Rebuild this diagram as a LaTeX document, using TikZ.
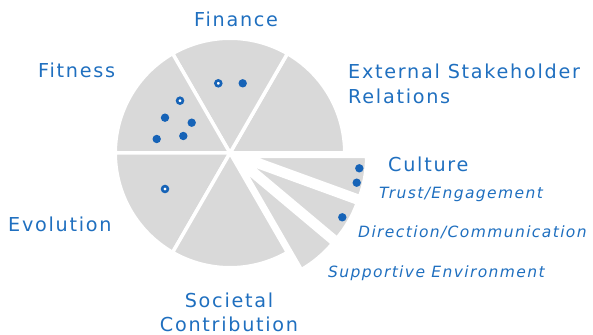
\documentclass[tikz,border=0pt]{standalone}
\usepackage{fontspec}
\setmainfont{DejaVu Sans}[LetterSpace=9]
\usetikzlibrary{calc}

\definecolor{labelblue}{RGB}{31,111,191}
\definecolor{dotblue}{RGB}{22,99,183}
\definecolor{piegray}{RGB}{217,217,217}

\begin{document}
\begin{tikzpicture}[x=1pt,y=1pt,
    slice/.style={fill=piegray,draw=white,line width=3.5pt,line join=round},
    area/.style={text=labelblue,font=\fontsize{19.2}{24.3}\selectfont,inner sep=0pt},
    subarea/.style={text=labelblue,font=\fontsize{15.5}{18}\selectfont\itshape,inner sep=0pt},
    fulldot/.style={fill=dotblue},
    opendot/.style={draw=dotblue,fill=white,line width=2.6pt}
]
\useasboundingbox (0,0) rectangle (593,334);

% === Pie centre ===
\coordinate (c) at (230,181);

% === Main slices ===
\foreach \a in {0,60,...,240} {
    \draw[slice] (c) -- ++(\a:114.75) arc (\a:\a+60:114.75) -- cycle;
}

% === Culture slices (pulled out) ===
\foreach \a in {-20,-40,-60} {
    \draw[slice] ($(c)+(\a+10:20)$) -- ++(\a:117) arc (\a:\a+20:117) -- cycle;
}

% === Dots ===
\foreach \x/\y in {242.7/250.7, 165/216.3, 191.7/211.3, 156.7/195, 183.3/198,
                   359.3/165.7, 356.7/151.3, 342.3/116.7} {
    \fill[fulldot] (\x,\y) circle (4.2pt);
}
\foreach \x/\y in {218.3/250.7, 180/233.3, 165/145} {
    \draw[opendot] (\x,\y) circle (2.9pt);
}

% === Labels ===
\node[area,anchor=base west] (finance) at (194,307.3) {Finance};
\node[area,anchor=base west] (fitness) at (38,256.3) {Fitness};
\node[area,anchor=base west,align=left] (external) at (348,230.7) {External Stakeholder\\Relations};
\node[area,anchor=base west] (evolution) at (8,102.3) {Evolution};
\node[area,anchor=base,align=center] (societal) at (229,2.4) {Societal\\Contribution};
\node[area,anchor=base west] (culture) at (388,162.3) {Culture};

% Culture sub-areas
\node[subarea,anchor=base west] (trust) at (379,135.7) {Trust/Engagement};
\node[subarea,anchor=base west] (direction) at (358,96.7) {Direction/Communication};
\node[subarea,anchor=base west] (support) at (328,56.7) {Supportive Environment};

\end{tikzpicture}
\end{document}
